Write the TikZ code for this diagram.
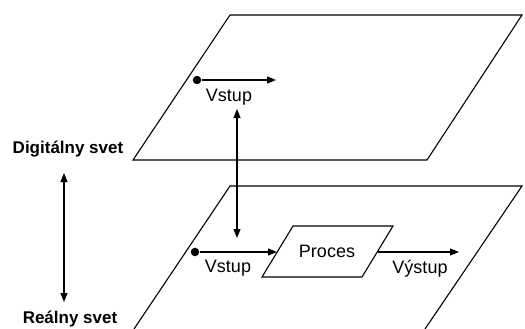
\documentclass[tikz,border=0pt]{standalone}
\usepackage{fontspec}
\setmainfont{Liberation Sans}
\usetikzlibrary{arrows.meta}
\begin{document}
\begin{tikzpicture}[x=1pt,y=-1pt,
  line width=1.1pt,
  tip/.style={-{Triangle[length=9pt,width=7pt]}},
  dtip/.style={{Triangle[length=9pt,width=7pt]}-{Triangle[length=9pt,width=7pt]}},
  lbl/.style={font=\fontsize{18}{21}\selectfont, inner sep=0pt},
  world/.style={font=\bfseries\fontsize{17}{20}\selectfont, inner sep=0pt},
  dot/.style={circle, fill=black, inner sep=0pt, minimum size=8.5pt}]
\useasboundingbox (0,0) rectangle (525,329);

% the two planes
\draw (133,160) -- (230,15) -- (522,15) -- (427,160) -- cycle;
\draw (134,329) -- (230,186) -- (522,186) -- (425,329);

% side labels
\node[world] (dig) at (68,149) {Digitálny svet};
\node[world] (real) at (70,319) {Reálny svet};
\coordinate (lt) at (64,173);
\coordinate (lb) at (64,302);
\draw[dtip] (lt) -- (lb);

% digital plane: input
\node[dot] (d1) at (197,80) {};
\coordinate (d1e) at (276,80);
\draw[tip] (d1) -- (d1e);
\node[lbl] (v1) at (229,97) {Vstup};

% real plane: input, process, output
\node[dot] (r1) at (195,252) {};
\coordinate (pl) at (277,252);
\coordinate (pr) at (378,252);
\draw (262,277) -- (293,226) -- (393,226) -- (362,277) -- cycle;
\node[lbl] (proc) at (327,251) {Proces};
\draw[tip] (r1) -- (pl);
\node[lbl] (v2) at (228,268) {Vstup};
\coordinate (oe) at (459,252);
\draw[tip] (pr) -- (oe);
\node[lbl] (out) at (420,269) {Výstup};

% link between the two worlds
\coordinate (ut) at (237,109);
\coordinate (ub) at (237,238);
\draw[dtip] (ut) -- (ub);
\end{tikzpicture}
\end{document}
